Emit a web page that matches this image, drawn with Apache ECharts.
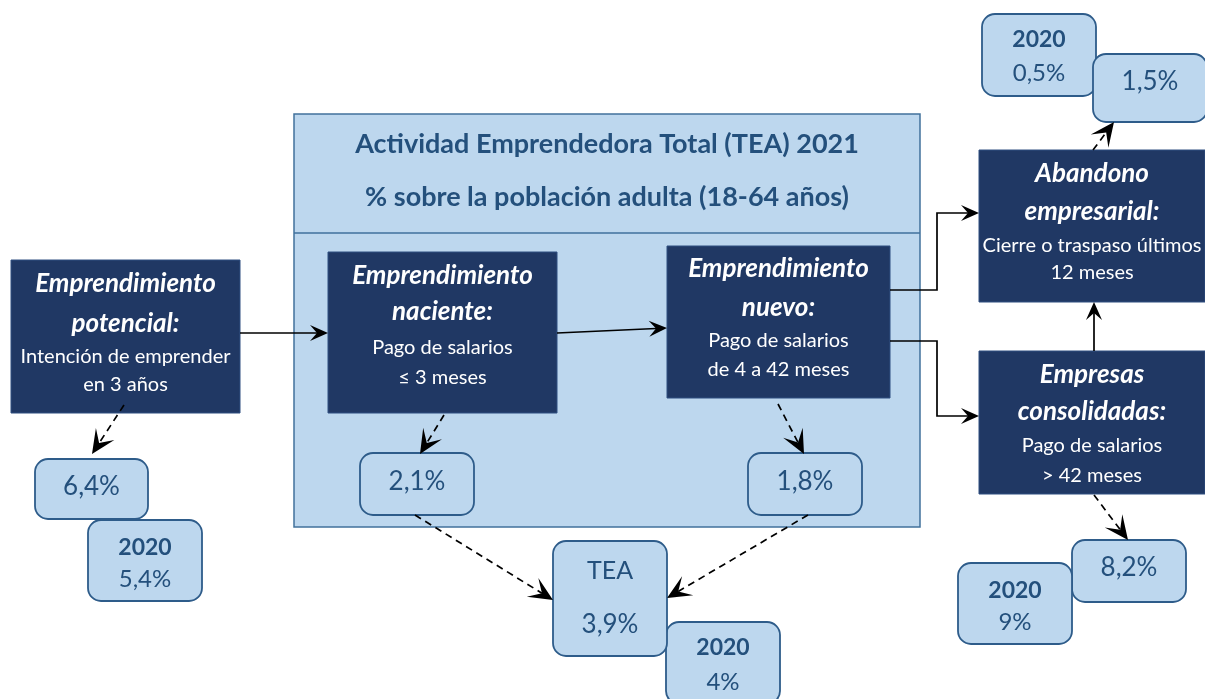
<!DOCTYPE html>
<html>
<head>
<meta charset="utf-8">
<script src="https://cdn.jsdelivr.net/npm/echarts@6/dist/echarts.min.js"></script>
<style>
html,body{margin:0;padding:0;background:#fff;}
#chart{width:1205px;height:699px;}
</style>
</head>
<body>
<div id="chart"></div>
<script>
// ---- DATA ----
const titleLines = ['Actividad Emprendedora Total (TEA) 2021', '% sobre la población adulta (18-64 años)'];
const stageIds = ['potencial', 'naciente', 'nuevo', 'abandono', 'consolidadas'];
const stageTitles = [['Emprendimiento', 'potencial:'], ['Emprendimiento', 'naciente:'], ['Emprendimiento', 'nuevo:'], ['Abandono', 'empresarial:'], ['Empresas', 'consolidadas:']];
const stageDescriptions = [['Intención de emprender', 'en 3 años'], ['Pago de salarios', '≤ 3 meses'], ['Pago de salarios', 'de 4 a 42 meses'], ['Cierre o traspaso últimos', '12 meses'], ['Pago de salarios', '> 42 meses']];
const values2021 = [6.4, 2.1, 1.8, 1.5, 8.2];
const values2020 = [5.4, null, null, 0.5, 9];
const teaLabel = 'TEA';
const teaValue2021 = 3.9;
const teaValue2020 = 4;
const previousYear = '2020';

// ---- LAYOUT (positions / sizes only) ----
const darkBoxes = {
  potencial:   {x: 11,  y: 260, w: 229, h: 153, lines: [284, 324, 357, 385]},
  naciente:    {x: 328, y: 252, w: 229, h: 161, lines: [276, 312, 348, 378]},
  nuevo:       {x: 667, y: 246, w: 223, h: 152, lines: [269, 308, 341, 370]},
  abandono:    {x: 979, y: 150, w: 226, h: 152, lines: [174, 212, 246, 273]},
  consolidadas:{x: 979, y: 351, w: 226, h: 143, lines: [375, 412, 446, 476]}
};
const valueBoxes = {
  potencial:   {x: 35,   y: 459, w: 113, h: 60, ty: 487},
  naciente:    {x: 360,  y: 453, w: 114, h: 62, ty: 482},
  nuevo:       {x: 748,  y: 453, w: 114, h: 62, ty: 482},
  abandono:    {x: 1093, y: 54,  w: 114, h: 68, ty: 82},
  consolidadas:{x: 1072, y: 540, w: 114, h: 62, ty: 568}
};
const prevBoxes = {
  potencial:   {x: 88,  y: 520, w: 114, h: 81, ty1: 548, ty2: 579},
  abandono:    {x: 982, y: 14,  w: 114, h: 82, ty1: 40,  ty2: 73},
  consolidadas:{x: 958, y: 563, w: 114, h: 81, ty1: 591, ty2: 622}
};
const boxOrder = {potencial: 'prevTop', abandono: 'valueTop', consolidadas: 'prevTop'};

const C_DARK = '#203864', C_LIGHT = '#BDD7EE', C_EDGE = '#2E5C8A', C_TEXT = '#24507C';
const FONT = 'Lato, "Open Sans", sans-serif';

function fmt(v){ return String(v).replace('.', ',') + '%'; }

const els = [];
function text(str, x, y, size, weight, style, color, z){
  els.push({type:'text', z: z||10, style:{text:str, x:x, y:y, textAlign:'center', textVerticalAlign:'middle',
    fill: color, font: (style||'normal') + ' ' + (weight||'normal') + ' ' + size + 'px ' + FONT}});
}
function lightBox(b, z){
  els.push({type:'rect', z: z, shape:{x:b.x, y:b.y, width:b.w, height:b.h, r:13},
    style:{fill:C_LIGHT, stroke:C_EDGE, lineWidth:1.8}});
}

// big TEA frame
els.push({type:'rect', z:1, shape:{x:294, y:114, width:626, height:413}, style:{fill:C_LIGHT, stroke:'#41719C', lineWidth:1.5}});
els.push({type:'line', z:2, shape:{x1:294, y1:233, x2:920, y2:233}, style:{stroke:'#41719C', lineWidth:1.5}});
text(titleLines[0], 607, 144, 27, 'bold', 'normal', C_TEXT, 3);
text(titleLines[1], 607, 197, 27, 'bold', 'normal', C_TEXT, 3);

// dark stage boxes
stageIds.forEach(function(id, i){
  const b = darkBoxes[id];
  const cx = b.x + b.w/2;
  els.push({type:'rect', z:5, shape:{x:b.x, y:b.y, width:b.w, height:b.h}, style:{fill:C_DARK, stroke:'#2F4F80', lineWidth:1}});
  text(stageTitles[i][0], cx, b.lines[0], 26, 'bold', 'italic', '#FFFFFF', 6);
  text(stageTitles[i][1], cx, b.lines[1], 26, 'bold', 'italic', '#FFFFFF', 6);
  text(stageDescriptions[i][0], cx, b.lines[2], 20, 'normal', 'normal', '#FFFFFF', 6);
  text(stageDescriptions[i][1], cx, b.lines[3], 20, 'normal', 'normal', '#FFFFFF', 6);
});

// value boxes (2021) and previous-year boxes
stageIds.forEach(function(id, i){
  const vb = valueBoxes[id];
  const pb = prevBoxes[id];
  const valueZ = (boxOrder[id] === 'valueTop') ? 14 : 12;
  const prevZ = (boxOrder[id] === 'valueTop') ? 12 : 14;
  lightBox(vb, valueZ);
  text(fmt(values2021[i]), vb.x + vb.w/2, vb.ty, 26, 'normal', 'normal', C_TEXT, valueZ + 1);
  if (pb && values2020[i] != null) {
    lightBox(pb, prevZ);
    text(previousYear, pb.x + pb.w/2, pb.ty1, 23, 'bold', 'normal', C_TEXT, prevZ + 1);
    text(fmt(values2020[i]), pb.x + pb.w/2, pb.ty2, 24, 'normal', 'normal', C_TEXT, prevZ + 1);
  }
});

// TEA box
lightBox({x:553, y:541, w:114, h:115}, 14);
text(teaLabel, 610, 571, 25, 'normal', 'normal', C_TEXT, 15);
text(fmt(teaValue2021), 610, 625, 26, 'normal', 'normal', C_TEXT, 15);
lightBox({x:666, y:622, w:114, h:82}, 12);
text(previousYear, 723, 648, 23, 'bold', 'normal', C_TEXT, 13);
text(fmt(teaValue2020), 723, 682, 24, 'normal', 'normal', C_TEXT, 13);

// arrows
function arrow(pts, dashed){
  const n = pts.length;
  const x2 = pts[n-1][0], y2 = pts[n-1][1];
  const x1 = pts[n-2][0], y1 = pts[n-2][1];
  const a = Math.atan2(y2 - y1, x2 - x1);
  const dx = Math.cos(a), dy = Math.sin(a);
  const L = dashed ? 24 : 18, W = dashed ? 11 : 8, N = dashed ? 13 : 11;
  const left = [x2 - L*dx + W*dy, y2 - L*dy - W*dx];
  const right = [x2 - L*dx - W*dy, y2 - L*dy + W*dx];
  const notch = [x2 - N*dx, y2 - N*dy];
  const linePts = pts.slice(0, n-1).concat([notch]);
  els.push({type:'polyline', z:20, shape:{points: linePts}, style:{stroke:'#000', lineWidth:1.7, fill:null, lineDash: dashed ? [7,5] : null}});
  els.push({type:'polygon', z:21, shape:{points:[[x2,y2], left, notch, right]}, style:{fill:'#000'}});
}
arrow([[240,333],[328,333]], false);
arrow([[557,333],[667,328]], false);
arrow([[890,290],[937,290],[937,213],[979,213]], false);
arrow([[890,341],[937,341],[937,416],[979,416]], false);
arrow([[1094,351],[1094,302]], false);
arrow([[124,405],[92,454]], true);
arrow([[444,415],[420,454]], true);
arrow([[778,404],[804,454]], true);
arrow([[1094,495],[1128,540]], true);
arrow([[1093,150],[1114,122]], true);
arrow([[415,515],[553,600]], true);
arrow([[808,515],[667,598]], true);

const chart = echarts.init(document.getElementById('chart'), null, {renderer:'canvas'});
chart.setOption({animation:false, backgroundColor:'#ffffff', graphic:{elements: els}});
</script>
</body>
</html>
